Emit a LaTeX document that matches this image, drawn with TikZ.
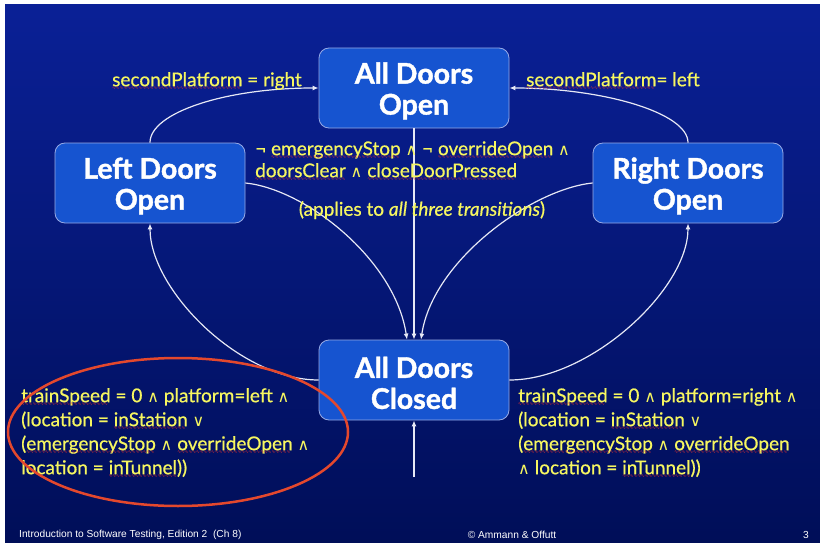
\documentclass[tikz,border=0pt]{standalone}
\usepackage{fontspec}
\setmainfont{Lato}
\setsansfont{Liberation Sans}
\newfontfamily\symf{DejaVu Sans}
\newfontfamily\lblf{Lato}[FakeBold=0.6]
\newfontfamily\titlef{Lato}[FakeBold=1.4]
\usetikzlibrary{arrows.meta}
\definecolor{bgtop}{RGB}{10,32,150}
\definecolor{bgbot}{RGB}{0,14,88}
\definecolor{boxfill}{RGB}{22,84,208}
\definecolor{boxline}{RGB}{150,170,230}
\definecolor{lblc}{RGB}{246,246,96}
\definecolor{wavy}{RGB}{225,45,45}
\definecolor{ring}{RGB}{228,72,45}
\definecolor{edgec}{RGB}{230,232,245}
\newsavebox\wvbox
\newcommand\wv[1]{\sbox\wvbox{#1}\rlap{\usebox\wvbox}\raisebox{-3.5pt}{\color{wavy}\leaders\hbox{\fontsize{4.5}{4.5}\selectfont\symf ∿}\hskip\wd\wvbox}}
\newcommand\AND{{\symf\fontsize{16}{16}\selectfont ∧}}
\newcommand\OR{{\symf\fontsize{16}{16}\selectfont ∨}}
\newcommand\NOT{¬}
\newcommand\tstrut{\rule{0pt}{27pt}}
\tikzset{
  state/.style={draw=boxline, line width=0.8pt, fill=boxfill, rounded corners=10pt,
    minimum width=190pt, minimum height=80pt, align=center, text=white,
    font=\titlef\bfseries\fontsize{28.5}{32}\selectfont},
  edge/.style={draw=edgec, line width=1.2pt, -{Latex[length=6pt,width=5pt]}},
  lbl/.style={text=lblc, inner sep=0pt, font=\lblf\fontsize{19}{24}\selectfont},
  foot/.style={text=white, inner sep=0pt, font=\sffamily\fontsize{10.2}{11}\selectfont},
}
\begin{document}
\begin{tikzpicture}[x=1pt,y=-1pt]
\fill[white] (0,0) rectangle (820,543);
\shade[top color=bgtop,bottom color=bgbot] (5,5) rectangle (820,543);
\useasboundingbox (0,0) rectangle (820,543);

\node[state] (ADO) at (414,88) {\tstrut All Doors\\[-1pt]Open};
\node[state] (LDO) at (150,183) {\tstrut Left Doors\\[-1pt]Open};
\node[state] (RDO) at (688,183) {\tstrut Right Doors\\[-1pt]Open};
\node[state] (ADC) at (414,380) {\tstrut All Doors\\[-1pt]Closed};

\draw[edge] (LDO.north) .. controls +(0,-30) and +(-93,0) .. (ADO.west);
\draw[edge] (RDO.north) .. controls +(0,-30) and +(93,0) .. (ADO.east);
\draw[edge] (ADO.south) -- (ADC.north);
\draw[edge] (LDO.east) .. controls +(60,6) and +(-12,-80) .. ([xshift=-7pt]ADC.north);
\draw[edge] (RDO.west) .. controls +(-60,6) and +(12,-80) .. ([xshift=7pt]ADC.north);
\draw[edge] (ADC.west) .. controls +(-79,0) and +(0,66) .. (LDO.south);
\draw[edge] (ADC.east) .. controls +(81,0) and +(0,66) .. (RDO.south);
\coordinate (init) at (414,477);
\draw[edge] (init) -- (ADC.south);

\node[lbl, anchor=west] (sp1) at (112,81) {\wv{secondPlatform} = right};
\node[lbl, anchor=west] (sp2) at (526,81) {\wv{secondPlatform}= left};
\node[lbl, anchor=north west, align=left, font=\lblf\fontsize{19}{22}\selectfont] (guard) at (255,141)
  {\NOT\ \wv{emergencyStop} \AND\ \NOT\ \wv{overrideOpen} \AND\\ \wv{doorsClear} \AND\ \wv{closeDoorPressed}};
\node[lbl] (note) at (422,210) {(applies to \textit{all three transitions})};
\node[lbl, anchor=north west, align=left] (gl) at (21,388)
  {\wv{trainSpeed} = 0 \AND\ platform=left \AND\\
   (location = \wv{inStation} \OR\\
   (\wv{emergencyStop} \AND\ \wv{overrideOpen} \AND\\
   location = \wv{inTunnel}))};
\node[lbl, anchor=north west, align=left] (gr) at (518,388)
  {\wv{trainSpeed} = 0 \AND\ platform=right \AND\\
   (location = \wv{inStation} \OR\\
   (\wv{emergencyStop} \AND\ \wv{overrideOpen}\\
   \AND\ location = \wv{inTunnel}))};

\draw[ring, line width=2.5pt] (178,432) ellipse [x radius=170pt, y radius=74pt];

\node[foot, anchor=west] (f1) at (19,535) {Introduction to Software Testing, Edition 2\ \ (Ch 8)};
\node[foot] (f2) at (512,535) {© Ammann \& Offutt};
\node[foot] (f3) at (806,535) {3};
\end{tikzpicture}
\end{document}
